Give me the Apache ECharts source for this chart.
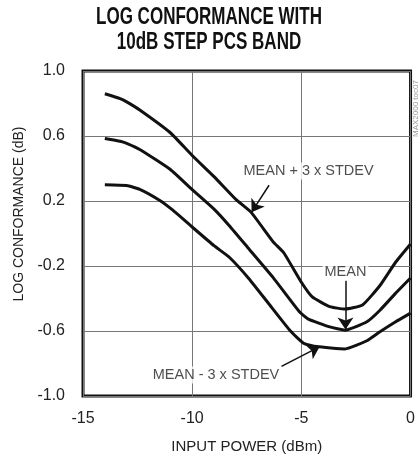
<!DOCTYPE html>
<html>
<head>
<meta charset="utf-8">
<script src="https://cdn.jsdelivr.net/npm/echarts@6/dist/echarts.min.js"></script>
<style>
html,body{margin:0;padding:0;background:#fff;}
#chart{width:418px;height:459px;}
</style>
</head>
<body>
<div id="chart"></div>
<script>
// ---- data ----
const titleLines = ['LOG CONFORMANCE WITH', '10dB STEP PCS BAND'];
const xAxisName = 'INPUT POWER (dBm)';
const yAxisName = 'LOG CONFORMANCE (dB)';
const xTicks = [-15, -10, -5, 0];
const yTicks = [-1.0, -0.6, -0.2, 0.2, 0.6, 1.0];

const plus3X  = [-14, -13.3, -13, -12.4, -11, -10, -9, -8, -7.3, -6.3, -5.8, -5, -4.5, -3.7, -3, -2.2, -1.4, -0.7, 0];
const plus3Y  = [0.86, 0.83, 0.81, 0.76, 0.62, 0.48, 0.35, 0.21, 0.13, -0.05, -0.12, -0.3, -0.39, -0.45, -0.465, -0.44, -0.32, -0.18, -0.065];

const meanX   = [-14, -13.3, -13, -12.4, -11, -10, -9, -8.3, -7.4, -6.3, -5.1, -4.7, -3.7, -3, -2, -1.4, -0.7, 0];
const meanY   = [0.585, 0.568, 0.555, 0.517, 0.394, 0.27, 0.15, 0.048, -0.095, -0.27, -0.48, -0.525, -0.575, -0.595, -0.543, -0.472, -0.37, -0.274];

const minus3X = [-14, -13, -12.4, -11.5, -10.9, -10, -9, -8.3, -7.4, -6.5, -5.5, -4.9, -4.3, -3, -2, -1.4, -0.7, 0];
const minus3Y = [0.30, 0.295, 0.272, 0.205, 0.145, 0.04, -0.075, -0.146, -0.278, -0.431, -0.6, -0.675, -0.696, -0.71, -0.66, -0.605, -0.545, -0.49];

// annotation labels: [x, y, text]
const annotLabels = [
  [-4.67, 0.384, 'MEAN + 3 x STDEV'],
  [-2.98, -0.237, 'MEAN'],
  [-8.91, -0.87, 'MEAN - 3 x STDEV']
];
// annotation arrows: [x1, y1, x2(tip), y2(tip)]
const annotArrows = [
  [-6.48, 0.297, -7.28, 0.131],
  [-2.98, -0.29, -2.98, -0.59],
  [-5.91, -0.818, -4.16, -0.696]
];
const sideNote = 'MAX2000 toc07';

// ---- chart ----
const FONT = '"Liberation Sans Narrow", "Liberation Sans", sans-serif';
const pairs = (xs, ys) => xs.map((x, i) => [x, ys[i]]);
const curveStyle = { color: '#111', width: 3 };

const chart = echarts.init(document.getElementById('chart'), null, { renderer: 'canvas' });
chart.setOption({
  backgroundColor: '#fff',
  animation: false,
  grid: {
    left: 83, right: 7, top: 71, bottom: 61,
    show: true, borderColor: '#111', borderWidth: 3, backgroundColor: 'transparent'
  },
  xAxis: {
    type: 'value', min: -15, max: 0, interval: 5,
    name: xAxisName, nameLocation: 'middle', nameGap: 43,
    nameTextStyle: { fontFamily: FONT, fontSize: 15, color: '#222' },
    axisLine: { show: false }, axisTick: { show: false },
    axisLabel: { fontFamily: FONT, fontSize: 16, color: '#222', margin: 15,
      formatter: v => xTicks.includes(v) ? String(v) : '' },
    splitLine: { show: true, lineStyle: { color: '#777', width: 1 } }
  },
  yAxis: {
    type: 'value', min: -1, max: 1, interval: 0.4,
    name: yAxisName, nameLocation: 'middle', nameGap: 55, nameRotate: 90,
    nameTextStyle: { fontFamily: FONT, fontSize: 14, color: '#222', padding: [0, 0, 0, 39] },
    axisLine: { show: false }, axisTick: { show: false },
    axisLabel: { fontFamily: FONT, fontSize: 16, color: '#222', margin: 18,
      formatter: v => v.toFixed(1) },
    splitLine: { show: true, lineStyle: { color: '#777', width: 1 } }
  },
  series: [
    { name: 'MEAN + 3 x STDEV', type: 'line', data: pairs(plus3X, plus3Y), showSymbol: false, smooth: 0.15, lineStyle: curveStyle, silent: true, z: 3 },
    { name: 'MEAN', type: 'line', data: pairs(meanX, meanY), showSymbol: false, smooth: 0.15, lineStyle: curveStyle, silent: true, z: 3 },
    { name: 'MEAN - 3 x STDEV', type: 'line', data: pairs(minus3X, minus3Y), showSymbol: false, smooth: 0.15, lineStyle: curveStyle, silent: true, z: 3 },
    {
      name: 'annotations', type: 'scatter', symbolSize: 0, silent: true, z: 5,
      data: annotLabels.map(a => ({ value: [a[0], a[1]], name: a[2] })),
      label: {
        show: true, position: 'inside', formatter: p => p.name,
        fontFamily: FONT, fontSize: 14.5, color: '#222',
        backgroundColor: '#fff', padding: [1, 2]
      },
      markLine: {
        silent: true, symbol: ['none', 'arrow'], symbolSize: 12,
        label: { show: false },
        lineStyle: { color: '#111', width: 1.5, type: 'solid' },
        emphasis: { disabled: true },
        data: annotArrows.map(a => [{ coord: [a[0], a[1]] }, { coord: [a[2], a[3]] }])
      }
    }
  ],
  graphic: [
    {
      type: 'text', x: 209, y: 18, scaleX: 0.74,
      style: { text: titleLines[0], textAlign: 'center', textVerticalAlign: 'middle',
        font: 'bold 23px "Liberation Sans", sans-serif', fill: '#111' }
    },
    {
      type: 'text', x: 209, y: 43, scaleX: 0.74,
      style: { text: titleLines[1], textAlign: 'center', textVerticalAlign: 'middle',
        font: 'bold 23px "Liberation Sans", sans-serif', fill: '#111' }
    },
    {
      type: 'text', x: 412, y: 137, rotation: Math.PI / 2,
      style: { text: sideNote, font: '8px "Liberation Sans", sans-serif', fill: '#999' }
    }
  ]
});
</script>
</body>
</html>
